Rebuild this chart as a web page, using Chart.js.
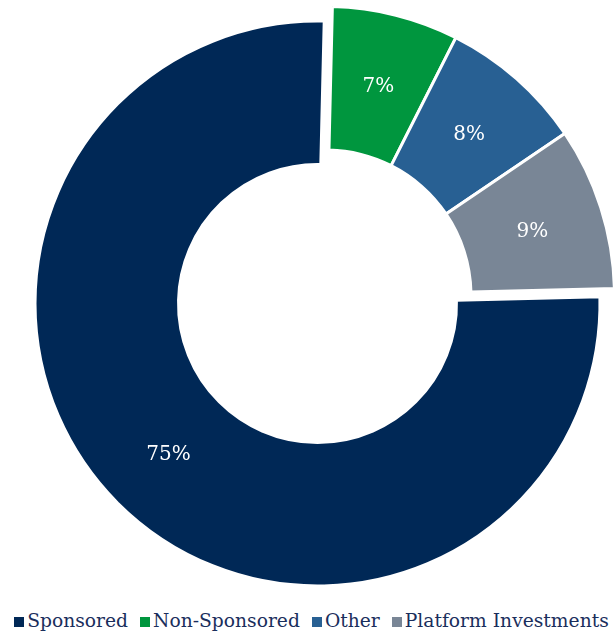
<!DOCTYPE html>
<html>
<head>
<meta charset="utf-8">
<script src="https://cdn.jsdelivr.net/npm/chart.js@4/dist/chart.umd.min.js"></script>
<style>
  html, body { margin: 0; padding: 0; background: #fff; }
  #wrap { position: relative; width: 615px; height: 634px; overflow: hidden; }
  #pie { position: absolute; left: 0; top: 0; }
  #legend {
    position: absolute; left: 0; top: 612px; width: 615px;
    display: flex; justify-content: center; padding-left: 8px; box-sizing: border-box;
    font-family: "DejaVu Serif", serif; font-size: 18.7px; line-height: 18.5px;
    color: #1a2e5c; white-space: nowrap;
  }
  #legend .item { margin: 0 6px; }
  #legend .sw { display: inline-block; width: 10px; height: 10px; margin-right: 3px; vertical-align: baseline; }
</style>
</head>
<body>
<div id="wrap">
  <canvas id="pie" width="615" height="600"></canvas>
  <div id="legend"></div>
</div>
<script>
// Portfolio mix by holding type (percent)
const categories = ['Sponsored', 'Non-Sponsored', 'Other', 'Platform Investments'];
const values = [75, 7, 8, 9];
const colors = ['#002856', '#00963e', '#286093', '#798696'];
// the three smaller holdings are pulled out together toward the upper right
const pulledOut = [false, true, true, true];

const PULL_X = 8, PULL_Y = -8, PULL_GROW = 6.5;

const total = values.reduce((a, b) => a + b, 0);
const bigSweep = 360 * values[0] / total;

// Moves the flagged arcs as one block and widens them slightly
const pulledGroup = {
  id: 'pulledGroup',
  afterDatasetUpdate(chart, args) {
    args.meta.data.forEach((arc, i) => {
      if (!pulledOut[i] || arc.$pulled) return;
      const baseDraw = arc.draw;
      arc.draw = function (ctx) {
        const ro = this.outerRadius, ri = this.innerRadius;
        this.outerRadius = ro + PULL_GROW;
        this.innerRadius = ri + PULL_GROW;
        ctx.save();
        ctx.translate(PULL_X, PULL_Y);
        baseDraw.call(this, ctx);
        ctx.restore();
        this.outerRadius = ro;
        this.innerRadius = ri;
      };
      arc.$pulled = true;
    });
  }
};

// Percent labels at the middle of each ring segment
const sliceLabels = {
  id: 'sliceLabels',
  afterDatasetsDraw(chart) {
    const ctx = chart.ctx;
    const meta = chart.getDatasetMeta(0);
    ctx.save();
    ctx.font = '20px "DejaVu Serif", serif';
    ctx.fillStyle = '#ffffff';
    ctx.textAlign = 'center';
    ctx.textBaseline = 'middle';
    meta.data.forEach((arc, i) => {
      const mid = (arc.startAngle + arc.endAngle) / 2;
      let r = (arc.innerRadius + arc.outerRadius) / 2;
      let x = arc.x, y = arc.y;
      if (pulledOut[i]) { r += PULL_GROW; x += PULL_X; y += PULL_Y; }
      ctx.fillText(values[i] + '%', x + Math.cos(mid) * r, y + Math.sin(mid) * r + 2);
    });
    ctx.restore();
  }
};

new Chart(document.getElementById('pie'), {
  type: 'doughnut',
  data: {
    labels: categories,
    datasets: [{
      data: values,
      backgroundColor: colors,
      borderColor: '#ffffff',
      borderWidth: 3,
      clip: false
    }]
  },
  options: {
    responsive: false,
    animation: false,
    events: [],
    radius: 282.5,
    cutout: '49.2%',
    rotation: 225 - bigSweep / 2,
    layout: { padding: { left: 20, top: 7, right: 0, bottom: 0 } },
    plugins: { legend: { display: false }, tooltip: { enabled: false } }
  },
  plugins: [pulledGroup, sliceLabels]
});

// Legend row under the ring
const legend = document.getElementById('legend');
categories.forEach((name, i) => {
  const item = document.createElement('span');
  item.className = 'item';
  const sw = document.createElement('span');
  sw.className = 'sw';
  sw.style.background = colors[i];
  item.appendChild(sw);
  item.appendChild(document.createTextNode(name));
  legend.appendChild(item);
});
</script>
</body>
</html>
